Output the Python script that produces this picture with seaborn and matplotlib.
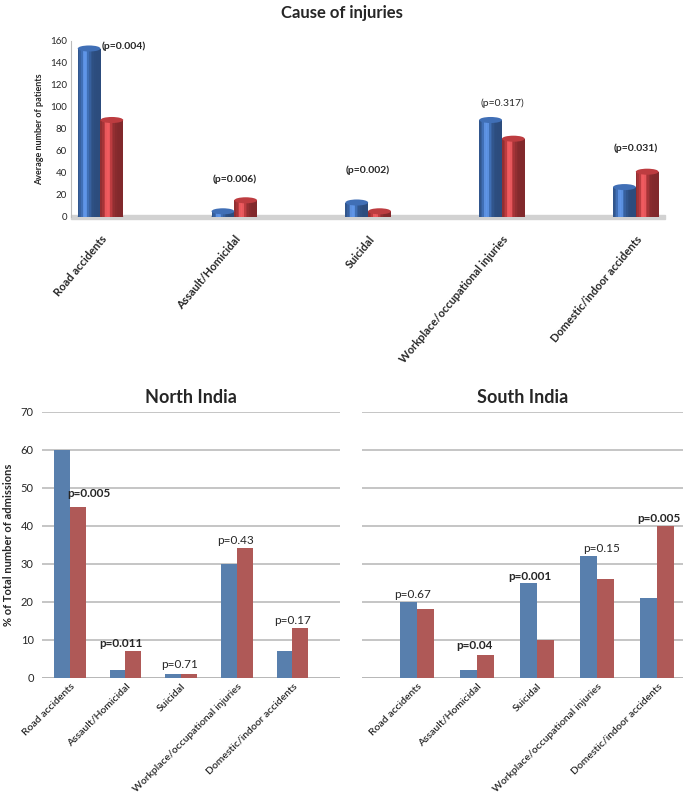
import pandas as pd
import numpy as np
import matplotlib.pyplot as plt
import seaborn as sns
from matplotlib.patches import Ellipse, Rectangle

# ---------------- data ----------------
causes = ['Road accidents', 'Assault/Homicidal', 'Suicidal',
          'Workplace/occupational injuries', 'Domestic/indoor accidents']

top_blue = [153, 5, 13, 88, 27]
top_red = [88, 15, 5, 71, 41]
top_p = ['(p=0.004)', '(p=0.006)', '(p=0.002)', '(p=0.317)', '(p=0.031)']
top_p_y = [155, 34, 42, 103, 62]
top_p_bold = [True, True, True, False, True]

north_blue = [60, 2, 1, 30, 7]
north_red = [45, 7, 1, 34, 13]
north_p = ['p=0.005', 'p=0.011', 'p=0.71', 'p=0.43', 'p=0.17']
north_p_y = [48.5, 9, 3.5, 36, 15]
north_p_bold = [True, True, False, False, False]
north_p_dx = [0.34, -0.09, -0.03, -0.02, 0.0]

south_blue = [20, 2, 25, 32, 21]
south_red = [18, 6, 10, 26, 40]
south_p = ['p=0.67', 'p=0.04', 'p=0.001', 'p=0.15', 'p=0.005']
south_p_y = [22, 8.5, 26.5, 34, 42]
south_p_bold = [False, True, True, False, True]
south_p_dx = [-0.08, -0.05, -0.12, 0.08, 0.02]

sns.set_theme(style='white')
plt.rcParams['font.family'] = ['Lato', 'DejaVu Sans']


def long_df(blue, red):
    return pd.DataFrame({
        'cause': causes * 2,
        'value': blue + red,
        'group': ['A'] * len(causes) + ['B'] * len(causes),
    })


fig = plt.figure(figsize=(6.83, 8.0), dpi=100)

# ---------------- top chart (Excel 3D cylinders) ----------------
ax0 = fig.add_axes([0.104, 0.729, 0.870, 0.220])
sns.barplot(data=long_df(top_blue, top_red), x='cause', y='value', hue='group',
            palette=['#2a66c0', '#c8252a'], width=0.34, legend=False,
            edgecolor='none', ax=ax0, zorder=3)

# fake cylinder shading: vertical strips + an elliptical cap
nstrip = 14
for bar in list(ax0.patches):
    x0, w, h = bar.get_x(), bar.get_width(), bar.get_height()
    base = np.array(bar.get_facecolor()[:3])
    for k in range(nstrip):
        t = (k + 0.5) / nstrip
        f = 0.72 + 0.5 * np.exp(-((t - 0.32) / 0.22) ** 2)
        col = np.clip(base * f + (0.08 if f > 1.1 else 0), 0, 1)
        ax0.add_patch(Rectangle((x0 + w * k / nstrip, 0), w / nstrip * 1.05, h,
                                color=col, lw=0, zorder=3))
    ax0.add_patch(Ellipse((x0 + w / 2, h), w, 5.5, color=np.clip(base * 1.05, 0, 1),
                          lw=0, zorder=4))
    ax0.add_patch(Ellipse((x0 + w / 2, 0), w, 5.5, color=base * 0.8, lw=0, zorder=2.9))

ax0.set_xlim(-0.22, 4.22)
ax0.set_ylim(0, 160)
ax0.set_yticks(range(0, 161, 20))
ax0.tick_params(axis='y', labelsize=7, length=0, pad=3)
ax0.set_xlabel('')
ax0.set_ylabel('Average number of patients', fontsize=6.5, fontweight='bold', labelpad=4)
ax0.set_xticks(range(len(causes)))
ax0.set_xticklabels(causes, rotation=50, ha='right', rotation_mode='anchor',
                    fontsize=8, fontweight='bold')
ax0.tick_params(axis='x', length=0, pad=12)
for s in ['top', 'right', 'bottom']:
    ax0.spines[s].set_visible(False)
ax0.spines['left'].set_color('#bbbbbb')
ax0.spines['left'].set_linewidth(0.8)
ax0.axhspan(-1.8, 1.2, color='#d2d2d2', clip_on=False, zorder=0.5)
for i, (txt, yy, b) in enumerate(zip(top_p, top_p_y, top_p_bold)):
    if i == 0:
        ax0.text(i + 0.01, yy, txt, fontsize=7.5, fontweight='bold', ha='left', va='center')
    else:
        ax0.text(i, yy, txt, fontsize=7.5, fontweight='bold' if b else 'normal',
                 ha='center', va='center')
fig.text(0.5, 0.984, 'Cause of injuries', ha='center', va='center',
         fontsize=12, fontweight='bold')


# ---------------- bottom panels ----------------
def region_panel(ax, blue, red, pvals, pys, pbold, pdx, title, xlim, show_y):
    sns.barplot(data=long_df(blue, red), x='cause', y='value', hue='group',
                palette=['#4a7ebb', '#be4b48'], width=0.57, legend=False,
                edgecolor='none', ax=ax, zorder=3)
    ax.set_xlim(*xlim)
    ax.set_ylim(0, 70)
    ax.set_yticks(range(0, 71, 10))
    ax.grid(axis='y', color='#b5b5b5', linewidth=1.1, zorder=0)
    ax.set_axisbelow(True)
    for s in ['top', 'right', 'left', 'bottom']:
        ax.spines[s].set_visible(False)
    ax.axhline(0, color='#b5b5b5', linewidth=1.1, zorder=1)
    ax.set_xlabel('')
    ax.set_xticks(range(len(causes)))
    ax.set_xticklabels(causes, rotation=45, ha='right', rotation_mode='anchor',
                       fontsize=7.5, fontweight='semibold')
    ax.tick_params(axis='x', length=0, pad=3)
    if show_y:
        ax.tick_params(axis='y', labelsize=8, length=0, pad=6)
        ax.set_ylabel('% of Total number of admissions', fontsize=8,
                      fontweight='bold', labelpad=5)
    else:
        ax.set_yticklabels([])
        ax.tick_params(axis='y', length=0)
        ax.set_ylabel('')
    ax.set_title(title, fontsize=13, fontweight='bold', pad=6)
    for i, (txt, yy, b, dx) in enumerate(zip(pvals, pys, pbold, pdx)):
        ax.text(i + dx, yy, txt, fontsize=8.5, fontweight='bold' if b else 'normal',
                ha='center', va='center', zorder=4)


ax1 = fig.add_axes([0.0615, 0.153, 0.436, 0.3325])
region_panel(ax1, north_blue, north_red, north_p, north_p_y, north_p_bold, north_p_dx,
             'North India', (-0.5, 4.85), True)

ax2 = fig.add_axes([0.530, 0.153, 0.470, 0.3325])
region_panel(ax2, south_blue, south_red, south_p, south_p_y, south_p_bold, south_p_dx,
             'South India', (-0.92, 4.43), False)

fig.savefig('out.png', dpi=100, facecolor='white')
